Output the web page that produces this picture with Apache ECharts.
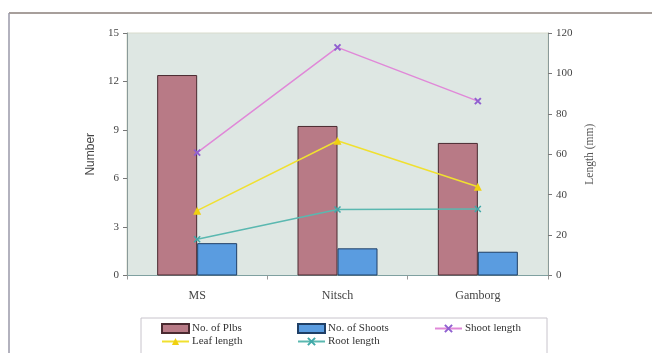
<!DOCTYPE html>
<html>
<head>
<meta charset="utf-8">
<script src="https://cdn.jsdelivr.net/npm/echarts@6/dist/echarts.min.js"></script>
<style>html,body{margin:0;padding:0;background:#fff}#c{width:652px;height:353px}</style>
</head>
<body>
<div id="c"></div>
<script>
const categories = ['MS', 'Nitsch', 'Gamborg'];
const plbs = [12.4, 9.25, 8.2];
const shoots = [2.0, 1.68, 1.47];
const shootLength = [60.8, 112.9, 86.3];
const leafLength = [32.1, 66.7, 43.9];
const rootLength = [17.9, 32.7, 32.9];
const leftTicks = [0, 3, 6, 9, 12, 15];
const rightTicks = [0, 20, 40, 60, 80, 100, 120];

const serif = '"Liberation Serif", "DejaVu Serif", serif';
const chart = echarts.init(document.getElementById('c'), null, {renderer: 'canvas'});
const xMark = 'path://M0,0L10,10M10,0L0,10';

function legendAt(name, left, top, icon) {
  return {
    data: [name], left: left, top: top, orient: 'horizontal',
    itemWidth: 27, itemHeight: 9, itemGap: 2, padding: 0,
    icon: icon,
    textStyle: {fontFamily: serif, fontSize: 11, color: '#333', padding: [0, 0, 0, -2]}
  };
}

chart.setOption({
  animation: false,
  backgroundColor: '#ffffff',
  graphic: [
    {type: 'line', shape: {x1: 9, y1: 13, x2: 652, y2: 13}, style: {stroke: '#8a7f7a', lineWidth: 1.5}},
    {type: 'line', shape: {x1: 9, y1: 13, x2: 9, y2: 353}, style: {stroke: '#9a98a8', lineWidth: 1.5}},
    {type: 'rect', shape: {x: 141, y: 318, width: 406, height: 40}, style: {fill: '#fff', stroke: '#c8c4cc', lineWidth: 1}, z: -1}
  ],
  grid: {left: 127, right: 104, top: 33, bottom: 77.5, show: true, backgroundColor: '#dee7e3', borderColor: '#d8dccd', borderWidth: 1},
  legend: [
    legendAt('No. of Plbs', 161, 323, 'rect'),
    legendAt('No. of Shoots', 297, 323, 'rect'),
    legendAt('Shoot length', 434, 323),
    legendAt('Leaf length', 161, 336),
    legendAt('Root length', 297, 336)
  ],
  xAxis: {
    type: 'category', data: categories,
    axisLine: {lineStyle: {color: '#7fa0a0', width: 1}},
    axisTick: {show: true, length: 4, lineStyle: {color: '#999'}},
    axisLabel: {fontFamily: serif, fontSize: 12, color: '#444', margin: 14}
  },
  yAxis: [
    {
      type: 'value', min: 0, max: 15, interval: 3,
      name: 'Number', nameLocation: 'middle', nameGap: 24,
      nameTextStyle: {fontFamily: '"Liberation Sans", Arial, sans-serif', fontSize: 12, color: '#444'},
      axisLine: {show: true, lineStyle: {color: '#8a9a9a'}},
      axisTick: {show: true, length: 4, lineStyle: {color: '#777'}},
      axisLabel: {fontFamily: serif, fontSize: 11, color: '#444', margin: 8},
      splitLine: {show: false}
    },
    {
      type: 'value', min: 0, max: 120, interval: 20,
      name: 'Length (mm)', nameLocation: 'middle', nameGap: 36, nameRotate: 90,
      nameTextStyle: {fontFamily: serif, fontSize: 11.5, color: '#555'},
      axisLine: {show: true, lineStyle: {color: '#8a9a9a'}},
      axisTick: {show: true, length: 4, lineStyle: {color: '#777'}},
      axisLabel: {fontFamily: serif, fontSize: 11, color: '#444', margin: 8},
      splitLine: {show: false}
    }
  ],
  series: [
    {
      name: 'No. of Plbs', type: 'bar', data: plbs, barWidth: 40, barGap: '0%',
      itemStyle: {color: '#b87a86', borderColor: '#4a2a30', borderWidth: 1}
    },
    {
      name: 'No. of Shoots', type: 'bar', data: shoots, barWidth: 40,
      itemStyle: {color: '#5a9ce0', borderColor: '#1f3f66', borderWidth: 1}
    },
    {
      name: 'Shoot length', type: 'line', yAxisIndex: 1, data: shootLength,
      symbol: xMark, symbolSize: 6,
      lineStyle: {color: '#e088d8', width: 1.5},
      itemStyle: {color: '#9060d0', borderColor: '#9060d0', borderWidth: 2}
    },
    {
      name: 'Leaf length', type: 'line', yAxisIndex: 1, data: leafLength,
      symbol: 'triangle', symbolSize: 8,
      lineStyle: {color: '#f0e030', width: 1.5},
      itemStyle: {color: '#f0d010'}
    },
    {
      name: 'Root length', type: 'line', yAxisIndex: 1, data: rootLength,
      symbol: xMark, symbolSize: 6,
      lineStyle: {color: '#5ab8b0', width: 1.5},
      itemStyle: {color: '#40a8a8', borderColor: '#40a8a8', borderWidth: 1.5}
    }
  ]
});
</script>
</body>
</html>
